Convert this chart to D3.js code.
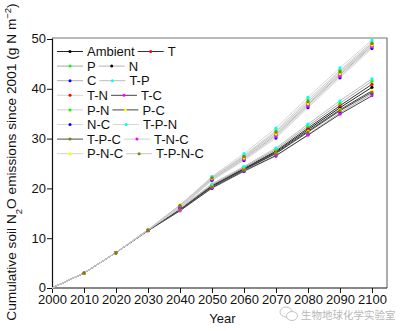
<!DOCTYPE html>
<html>
<head>
<meta charset="utf-8">
<script src="https://cdn.jsdelivr.net/npm/d3@7"></script>
<style>
  html, body { margin: 0; padding: 0; background: #fff; }
  svg { display: block; font-family: "Liberation Sans", Arial, sans-serif; }
</style>
</head>
<body>
<svg id="chart" width="404" height="331"></svg>
<script>
// Simulated cumulative soil N2O emissions (g N m-2) since 2001, per treatment
const years = [2000, 2010, 2020, 2030, 2040, 2050, 2060, 2070, 2080, 2090, 2100];
const xTicks = [2000, 2010, 2020, 2030, 2040, 2050, 2060, 2070, 2080, 2090, 2100];
const yTicks = [0, 10, 20, 30, 40, 50];

const treatments = ["Ambient", "T", "P", "N", "C", "T-P", "T-N", "T-C",
                    "P-N", "P-C", "N-C", "T-P-N", "T-P-C", "T-N-C", "P-N-C", "T-P-N-C"];
const markerColors = ["#000000", "#ff0000", "#00ff00", "#000000", "#0000ff", "#00ffff", "#ff0000", "#ff00ff",
                      "#00ff00", "#ffff00", "#0000ff", "#00ffff", "#808000", "#ff00ff", "#ffff00", "#808000"];
const lineColors = ["#222222", "#333333", "#a8a8a8", "#b4b4b4", "#b0b0b0", "#bcbcbc", "#d4d4d4", "#444444",
                    "#d0d0d0", "#444444", "#d8d8d8", "#d6d6d6", "#4a4a4a", "#cfcfcf", "#d2d2d2", "#c4c4c4"];

const ambient = [0, 3.0, 7.1, 11.6, 15.8, 20.5, 23.9, 27.3, 31.8, 36.2, 40.3];
const tWarm   = [0, 3.0, 7.1, 11.6, 15.8, 20.6, 24.0, 27.5, 32.1, 36.6, 40.9];
const pPrec   = [0, 3.0, 7.1, 11.6, 15.9, 20.7, 24.2, 27.8, 32.5, 37.1, 41.5];
const nDep    = [0, 3.0, 7.1, 11.6, 16.2, 21.8, 26.0, 30.7, 36.8, 42.8, 48.6];
const cCO2    = [0, 3.0, 7.1, 11.5, 15.6, 20.0, 23.4, 26.5, 30.8, 35.2, 39.0];
const tP      = [0, 3.0, 7.1, 11.6, 16.0, 20.9, 24.4, 28.1, 32.9, 37.6, 42.0];
const tN      = [0, 3.0, 7.1, 11.6, 16.3, 21.9, 26.2, 31.0, 37.1, 43.1, 49.0];
const tC      = [0, 3.0, 7.1, 11.5, 15.5, 20.1, 23.5, 26.6, 30.7, 34.9, 38.6];
const pN      = [0, 3.0, 7.1, 11.7, 16.5, 22.2, 26.6, 31.6, 37.8, 43.7, 49.4];
const pC      = [0, 3.0, 7.1, 11.6, 15.7, 20.4, 23.8, 27.1, 31.5, 35.8, 39.6];
const nC      = [0, 3.0, 7.1, 11.6, 16.0, 21.6, 25.6, 30.1, 36.2, 42.2, 48.1];
const tPN     = [0, 3.0, 7.1, 11.7, 16.6, 22.4, 27.0, 32.1, 38.3, 44.2, 49.8];
const tPC     = [0, 3.0, 7.1, 11.6, 15.7, 20.3, 23.7, 27.0, 31.3, 35.6, 39.3];
const tNC     = [0, 3.0, 7.1, 11.6, 16.1, 21.7, 25.8, 30.4, 36.5, 42.5, 48.4];
const pNC     = [0, 3.0, 7.1, 11.7, 16.7, 22.0, 26.1, 30.9, 37.0, 43.0, 48.8];
const tPNC    = [0, 3.0, 7.1, 11.7, 16.6, 22.1, 26.4, 31.3, 37.4, 43.4, 49.1];

const seriesValues = [ambient, tWarm, pPrec, nDep, cCO2, tP, tN, tC, pN, pC, nC, tPN, tPC, tNC, pNC, tPNC];

const series = treatments.map((name, i) => ({
  name, marker: markerColors[i], line: lineColors[i],
  points: years.map((yr, j) => ({ year: yr, value: seriesValues[i][j] }))
}));

const svg = d3.select("#chart");
const plotL = 52, plotR = 387, plotT = 38, plotB = 288;

const x = d3.scaleLinear().domain([2000, 2104.7]).range([plotL, plotR]);
const y = d3.scaleLinear().domain([0, 50.2]).range([plotB, plotT]);

// frame: top and right edges
svg.append("path")
  .attr("d", `M${plotL},${plotT}H${plotR}V${plotB}`)
  .attr("fill", "none").attr("stroke", "#777").attr("stroke-width", 1.2);

// axes
const xAxis = svg.append("g").attr("transform", `translate(0,${plotB})`)
  .call(d3.axisBottom(x).tickValues(xTicks).tickFormat(d3.format("d")).tickSize(5).tickSizeOuter(0));
const yAxis = svg.append("g").attr("transform", `translate(${plotL},0)`)
  .call(d3.axisLeft(y).tickValues(yTicks).tickSize(5).tickSizeOuter(0));
[xAxis, yAxis].forEach(g => {
  g.select(".domain").attr("stroke", "#111").attr("stroke-width", 1.2);
  g.selectAll(".tick line").attr("stroke", "#111");
  g.selectAll(".tick text").attr("fill", "#111").style("font-size", "13px")
    .style("font-family", "'Liberation Sans', Arial, sans-serif");
});
xAxis.select(".domain").attr("d", `M${plotL},0H${plotR}`);
xAxis.selectAll(".tick text").attr("dy", "0.72em").attr("y", 7);
yAxis.selectAll(".tick text").attr("x", -6).attr("dy", "0.3em");

// lines and markers
const line = d3.line().x(d => x(d.year)).y(d => y(d.value));
const gLines = svg.append("g");
series.forEach(s => {
  gLines.append("path").datum(s.points)
    .attr("d", line).attr("fill", "none")
    .attr("stroke", s.line).attr("stroke-width", 1);
});
const gPts = svg.append("g");
series.forEach(s => {
  gPts.selectAll(null).data(s.points.filter(p => p.year > 2000)).join("circle")
    .attr("cx", d => x(d.year)).attr("cy", d => y(d.value))
    .attr("r", 1.6).attr("fill", s.marker);
});

// legend: two entries per row, second entry follows the first label
const legend = svg.append("g");
const rowY0 = 51.5, rowStep = 14.6, lineLen = 26, col0 = 57;
function legendItem(xStart, yRow, s) {
  legend.append("line").attr("x1", xStart).attr("x2", xStart + lineLen)
    .attr("y1", yRow).attr("y2", yRow).attr("stroke", s.line).attr("stroke-width", 1);
  legend.append("circle").attr("cx", xStart + lineLen / 2).attr("cy", yRow).attr("r", 1.5)
    .attr("fill", s.marker);
  const t = legend.append("text").attr("x", xStart + lineLen + 4).attr("y", yRow)
    .attr("dy", "0.36em").style("font-size", "13px").attr("fill", "#111").text(s.name);
  return xStart + lineLen + 4 + t.node().getComputedTextLength();
}
for (let r = 0; r < 8; r++) {
  const yRow = rowY0 + r * rowStep;
  const end = legendItem(col0, yRow, series[2 * r]);
  legendItem(end + 3, yRow, series[2 * r + 1]);
}

// axis titles
svg.append("text").attr("x", (plotL + plotR) / 2 + 3).attr("y", 323)
  .attr("text-anchor", "middle").style("font-size", "13px").attr("fill", "#111").text("Year");

const yt = svg.append("text")
  .attr("transform", `translate(16,${(plotT + plotB) / 2 - 1}) rotate(-90)`)
  .attr("text-anchor", "middle").style("font-size", "13.7px").attr("fill", "#111");
yt.append("tspan").text("Cumulative soil N");
yt.append("tspan").attr("baseline-shift", "sub").style("font-size", "9.5px").text("2");
yt.append("tspan").text("O emissions since 2001 (g N m");
yt.append("tspan").attr("baseline-shift", "super").style("font-size", "9.5px").text("−2");
yt.append("tspan").text(")");

// account badge
const badge = svg.append("g").attr("fill", "none").attr("stroke", "#bbb").attr("stroke-width", 0.9);
badge.append("ellipse").attr("cx", 286).attr("cy", 312).attr("rx", 6).attr("ry", 5);
badge.append("ellipse").attr("cx", 292).attr("cy", 316).attr("rx", 5.5).attr("ry", 4.5).attr("fill", "#fff");
svg.append("text").attr("x", 301).attr("y", 318.5).style("font-size", "10.5px")
  .style("font-family", "'Noto Sans CJK SC', sans-serif").attr("fill", "#b8b8b8")
  .text("生物地球化学实验室");
</script>
</body>
</html>
